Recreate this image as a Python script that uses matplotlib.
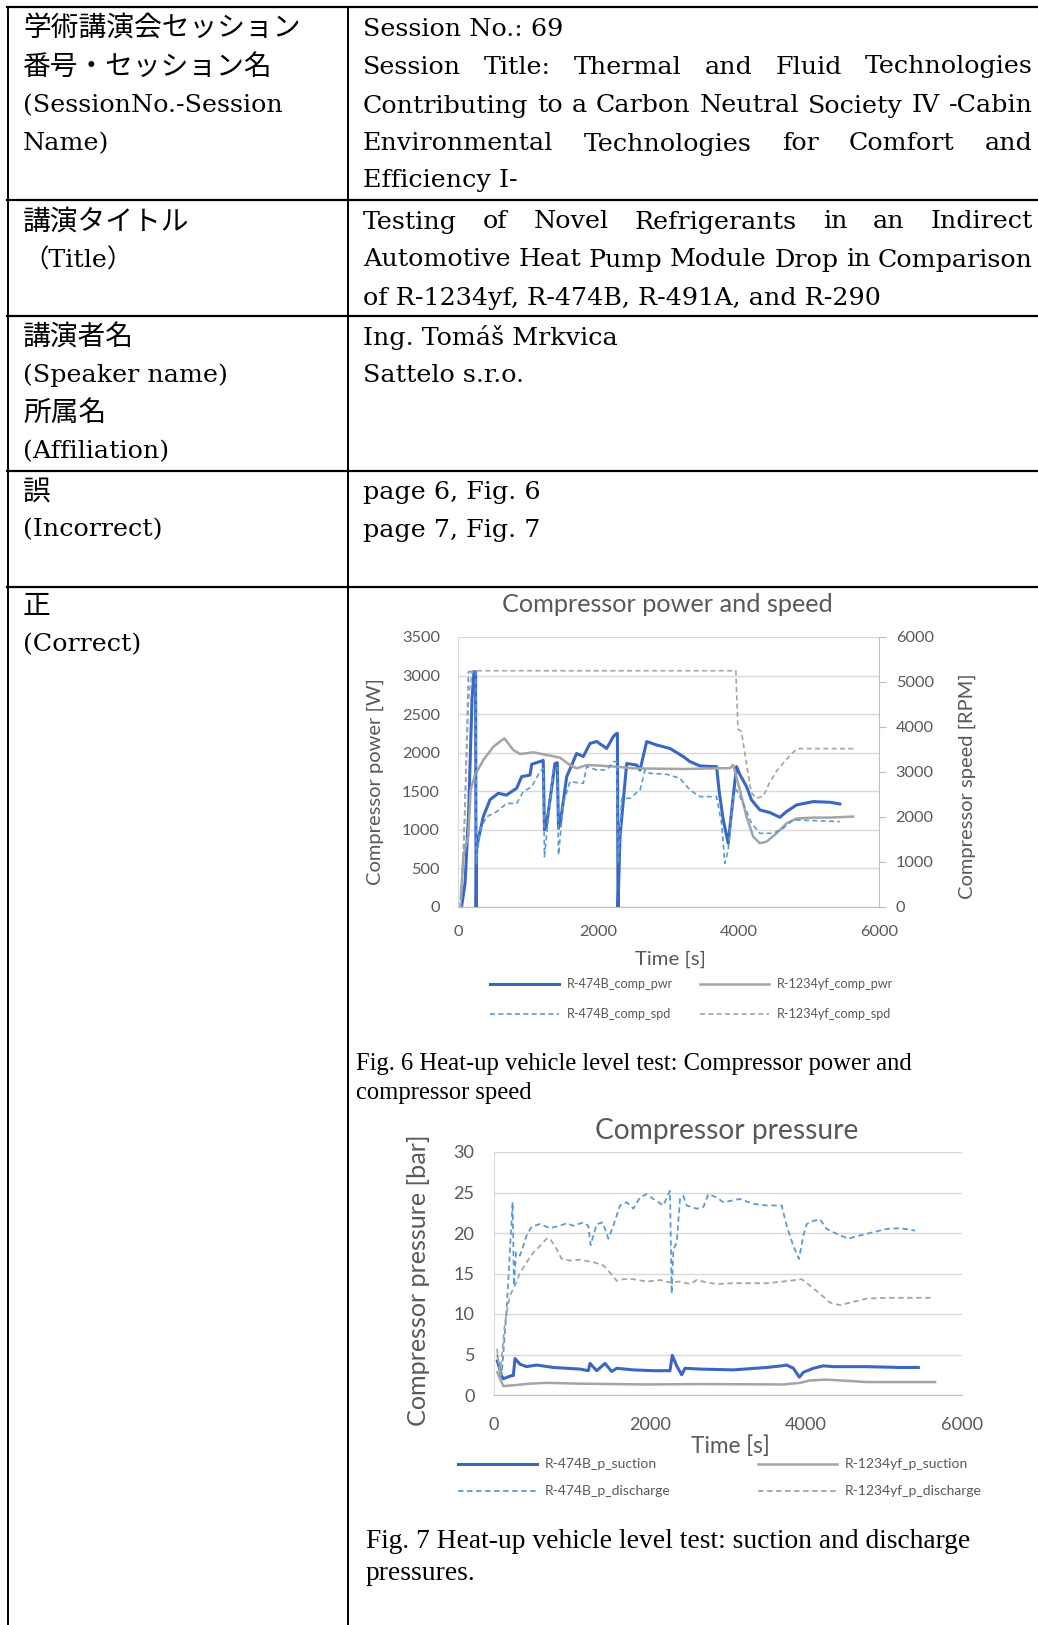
import matplotlib
matplotlib.use('Agg')
import matplotlib.pyplot as plt
from matplotlib.lines import Line2D

# ---- data: Fig. 6 compressor power [W] / speed [RPM] ----
t_474b_pwr = [50, 100, 150, 200, 228, 250, 258, 266, 360, 456, 575, 690, 836, 907, 1026, 1050, 1150, 1215, 1232, 1260,
              1382, 1415, 1432, 1460, 1549, 1691, 1786, 1881, 1976, 2119, 2214, 2261, 2272, 2280, 2309, 2404, 2546, 2594,
              2689, 2831, 3021, 3211, 3305, 3447, 3637, 3685, 3722, 3780, 3851, 3922, 3970, 4008, 4112, 4183, 4302, 4445,
              4587, 4682, 4825, 5062, 5300, 5442]
v_474b_pwr = [0, 300, 1200, 2700, 3050, 3050, 0, 780, 1170, 1390, 1475, 1450, 1540, 1690, 1710, 1850, 1880, 1900, 1000, 1050,
              1860, 1870, 1020, 1100, 1690, 1990, 1950, 2120, 2145, 2055, 2210, 2250, 2250, 0, 910, 1860, 1840, 1775,
              2145, 2100, 2055, 1950, 1885, 1829, 1820, 1820, 1500, 1128, 826, 1431, 1820, 1734, 1561, 1388, 1258, 1224,
              1163, 1237, 1323, 1366, 1358, 1336]

t_yf_pwr = [40, 76, 110, 147, 180, 242, 361, 504, 660, 789, 884, 1074, 1311, 1454, 1596, 1691, 1834, 2024, 2261, 2499,
            3211, 3875, 3922, 4017, 4112, 4207, 4302, 4397, 4540, 4682, 4825, 5062, 5300, 5632]
v_yf_pwr = [100, 650, 800, 910, 1517, 1711, 1905, 2078, 2186, 2035, 1983, 2005, 1962, 1936, 1840, 1797, 1840, 1832, 1819, 1797,
            1789, 1800, 1842, 1518, 1172, 912, 826, 847, 955, 1085, 1146, 1159, 1159, 1172]

t_474b_spd = [30, 80, 120, 150, 250, 262, 313, 408, 551, 693, 836, 931, 1050, 1169, 1216, 1232, 1359, 1420, 1432, 1501,
              1596, 1786, 1834, 1976, 2119, 2214, 2261, 2285, 2333, 2451, 2594, 2665, 2736, 2974, 3162, 3305, 3447, 3685,
              3756, 3803, 3851, 3922, 3970, 4065, 4183, 4302, 4492, 4635, 4777, 5062, 5442]
v_474b_spd = [0, 1200, 3430, 5230, 5230, 970, 1715, 2005, 2117, 2302, 2302, 2563, 2674, 3009, 3081, 1118, 3090, 3090, 1157, 2302,
              2786, 2748, 3120, 3045, 3045, 3231, 3231, 970, 2415, 2415, 2601, 3045, 2971, 2949, 2861, 2601, 2453, 2453,
              1860, 970, 1267, 2453, 2601, 2306, 1860, 1637, 1637, 1749, 1935, 1920, 1898]

t_yf_spd = [40, 90, 150, 200, 3960, 3990, 4040, 4110, 4180, 4250, 4350, 4440, 4540, 4680, 4830, 5650]
v_yf_spd = [0, 1800, 4600, 5250, 5250, 3950, 3900, 3200, 2540, 2420, 2460, 2760, 3020, 3280, 3520, 3520]

# ---- data: Fig. 7 compressor pressure [bar] ----
t_474b_dis = [40, 98, 162, 239, 256, 282, 333, 419, 483, 590, 718, 846, 931, 1017, 1145, 1209, 1239, 1316, 1393, 1466,
              1530, 1615, 1701, 1786, 1872, 1957, 2043, 2171, 2256, 2278, 2299, 2342, 2385, 2427, 2470, 2598, 2684, 2748,
              2855, 2940, 3154, 3325, 3496, 3688, 3752, 3838, 3910, 3966, 4009, 4095, 4180, 4265, 4393, 4543, 4693, 4863,
              5034, 5205, 5398]
v_474b_dis = [5.0, 2.4, 10.6, 23.8, 13.5, 17.6, 17.2, 19.7, 20.8, 21.1, 20.6, 20.9, 21.2, 20.9, 21.3, 20.9, 18.5, 21.1, 21.3, 19.3,
              20.9, 23.4, 23.8, 23.0, 24.4, 24.8, 24.2, 23.4, 25.2, 12.5, 18.0, 18.8, 24.2, 24.6, 23.4, 23.0, 23.2, 24.8,
              24.4, 23.8, 24.2, 23.6, 23.4, 23.4, 20.9, 18.4, 16.8, 19.7, 21.1, 21.5, 21.7, 20.5, 19.9, 19.3, 19.7, 20.1,
              20.5, 20.6, 20.3]

t_yf_dis = [40, 77, 141, 205, 269, 333, 419, 504, 590, 675, 718, 803, 867, 974, 1102, 1273, 1402, 1487, 1573, 1658,
            1786, 1957, 2128, 2256, 2385, 2513, 2598, 2726, 2855, 3068, 3496, 3795, 3944, 4051, 4180, 4308, 4436, 4564,
            4778, 5034, 5633]
v_yf_dis = [5.7, 2.4, 9.0, 12.3, 13.5, 15.1, 16.4, 17.6, 18.4, 19.3, 19.3, 18.0, 16.8, 16.6, 16.7, 16.4, 16.0, 15.1, 14.1, 14.3,
            14.3, 14.0, 14.2, 13.9, 14.0, 13.7, 14.2, 13.9, 13.7, 13.8, 13.8, 14.1, 14.3, 13.5, 12.5, 11.4, 11.1, 11.4,
            11.9, 12.0, 12.0]

t_474b_suc = [43, 98, 119, 226, 248, 269, 333, 419, 547, 761, 1102, 1209, 1231, 1316, 1423, 1509, 1573, 1786, 2043, 2256,
              2286, 2342, 2406, 2449, 2641, 3068, 3496, 3688, 3752, 3838, 3915, 3966, 4095, 4223, 4351, 4778, 5205, 5440]
v_474b_suc = [4.2, 2.4, 2.0, 2.4, 2.4, 4.5, 3.8, 3.5, 3.7, 3.4, 3.2, 3.0, 3.9, 3.0, 3.9, 2.9, 3.3, 3.1, 3.0, 3.0,
              4.9, 3.6, 2.5, 3.3, 3.2, 3.1, 3.4, 3.6, 3.7, 3.3, 2.2, 2.8, 3.3, 3.6, 3.5, 3.5, 3.4, 3.4]

t_yf_suc = [43, 119, 248, 461, 675, 1102, 1957, 2641, 3710, 3923, 4051, 4265, 4436, 4778, 5205, 5654]
v_yf_suc = [2.8, 1.1, 1.2, 1.4, 1.5, 1.4, 1.3, 1.35, 1.3, 1.5, 1.8, 1.9, 1.8, 1.6, 1.6, 1.6]

legend1 = ['R-474B_comp_pwr', 'R-1234yf_comp_pwr', 'R-474B_comp_spd', 'R-1234yf_comp_spd']
legend2 = ['R-474B_p_suction', 'R-1234yf_p_suction', 'R-474B_p_discharge', 'R-1234yf_p_discharge']

# ---- table text ----
left_col = [
    ['学術講演会セッション', '番号・セッション名', '(SessionNo.-Session', 'Name)'],
    ['講演タイトル', '（Title）'],
    ['講演者名', '(Speaker name)', '所属名', '(Affiliation)'],
    ['誤', '(Incorrect)'],
    ['正', '(Correct)'],
]
# (text, justified?)
right_col = [
    [('Session No.: 69', False),
     ('Session Title: Thermal and Fluid Technologies', True),
     ('Contributing to a Carbon Neutral Society IV -Cabin', True),
     ('Environmental Technologies for Comfort and', True),
     ('Efficiency I-', False)],
    [('Testing of Novel Refrigerants in an Indirect', True),
     ('Automotive Heat Pump Module Drop in Comparison', True),
     ('of R-1234yf, R-474B, R-491A, and R-290', False)],
    [('Ing. Tomáš Mrkvica', False), ('Sattelo s.r.o.', False)],
    [('page 6, Fig. 6', False), ('page 7, Fig. 7', False)],
]

W, H = 1038, 1625
fig = plt.figure(figsize=(W / 100, H / 100), dpi=100)
rend = fig.canvas.get_renderer()

SERIF = ['DejaVu Serif', 'Noto Sans CJK JP']
GOTHIC = ['Noto Sans CJK JP', 'DejaVu Sans']
TIMES = ['Liberation Serif', 'DejaVu Serif']
CHART = ['Lato', 'DejaVu Sans']
GRAY_TXT = '#595959'
BLUE = '#3B67C4'
LBLUE = '#5B9BD5'
GRAY = '#A5A5A5'


def fx(x):
    return x / W


def fy(y):
    return 1 - y / H


def text_w(s, size, family):
    t = fig.text(0, 0, s, fontsize=size, family=family)
    w = t.get_window_extent(rend).width
    t.remove()
    return w


def fit(s, target, family):
    return 20 * target / text_w(s, 20, family)


def put(x, y, s, size, family, **kw):
    return fig.text(fx(x), fy(y), s, fontsize=size, family=family, va='center', **kw)


def put_justified(x0, x1, y, s, size, family):
    words = s.split(' ')
    widths = [text_w(w, size, family) for w in words]
    gap = (x1 - x0 - sum(widths)) / (len(words) - 1)
    x = x0
    for w, ww in zip(words, widths):
        put(x, y, w, size, family)
        x += ww + gap


# ---- table grid ----
row_lines = [7, 200, 316, 471, 587]
for y in row_lines:
    fig.add_artist(Line2D([fx(7), fx(W)], [fy(y), fy(y)], color='black', lw=1.6))
for x in [8, 348]:
    fig.add_artist(Line2D([fx(x), fx(x)], [fy(7), fy(H)], color='black', lw=1.4))

line_y = [[29, 67, 106, 144, 181], [222, 260, 298], [338, 375, 413, 452], [492, 530], [606, 645]]

x0, x1 = 363, 1033
serif_size = min(fit(s, x1 - x0, SERIF) for blk in right_col for s, j in blk if j)
jp_size = fit('学術講演会セッション', 277, GOTHIC)

for blk, ys in zip(left_col, line_y):
    for s, y in zip(blk, ys):
        if s.startswith('(') or s.startswith('（') or s.startswith('N'):
            put(23, y, s, serif_size, SERIF)
        else:
            put(23, y, s, jp_size, GOTHIC)

for blk, ys in zip(right_col, line_y):
    for (s, j), y in zip(blk, ys):
        if j:
            put_justified(x0, x1, y, s, serif_size, SERIF)
        else:
            put(x0, y, s, serif_size, SERIF)

# ---- Fig. 6 chart ----
tick_size = fit('3000', 38, CHART)
leg_size = fit('R-474B_comp_pwr', 107, CHART)

ax1 = fig.add_axes([fx(458), fy(907), (879 - 458) / W, (907 - 637) / H])
ax1b = ax1.twinx()
l1, = ax1.plot(t_474b_pwr, v_474b_pwr, color=BLUE, lw=2.2)
l2, = ax1.plot(t_yf_pwr, v_yf_pwr, color=GRAY, lw=1.8)
l3, = ax1b.plot(t_474b_spd, v_474b_spd, color=LBLUE, lw=1.2, dashes=(3, 2))
l4, = ax1b.plot(t_yf_spd, v_yf_spd, color=GRAY, lw=1.2, dashes=(3, 2))

ax1.set_xlim(0, 6000)
ax1.set_xticks([0, 2000, 4000, 6000])
ax1.set_ylim(0, 3500)
ax1.set_yticks(range(0, 3501, 500))
ax1.grid(axis='y', color='#D9D9D9', lw=1)
ax1.set_axisbelow(True)
ax1.tick_params(axis='y', length=0, pad=13, labelsize=tick_size, labelcolor=GRAY_TXT)
ax1.tick_params(axis='x', length=0, pad=13, labelsize=tick_size, labelcolor=GRAY_TXT)
ax1b.set_ylim(0, 6000)
ax1b.set_yticks(range(0, 6001, 1000))
ax1b.tick_params(axis='y', length=5, color='#BFBFBF', pad=7, labelsize=tick_size, labelcolor=GRAY_TXT)
for ax in (ax1, ax1b):
    ax.spines['top'].set_visible(False)
ax1.spines['right'].set_visible(False)
ax1.spines['left'].set_color('#D9D9D9')
ax1.spines['bottom'].set_color('#BFBFBF')
ax1b.spines['left'].set_visible(False)
ax1b.spines['bottom'].set_visible(False)
ax1b.spines['right'].set_color('#BFBFBF')
for lab in ax1.get_yticklabels() + ax1.get_xticklabels() + ax1b.get_yticklabels():
    lab.set_family(CHART)

put(667, 605, 'Compressor power and speed', fit('Compressor power and speed', 332, CHART), CHART,
    ha='center', color=GRAY_TXT)
put(375, 782, 'Compressor power [W]', fit('Compressor power [W]', 207, CHART), CHART,
    ha='center', rotation=90, color=GRAY_TXT)
put(967, 786, 'Compressor speed [RPM]', fit('Compressor speed [RPM]', 226, CHART), CHART,
    ha='center', rotation=90, color=GRAY_TXT)
put(670, 959, 'Time [s]', fit('Time [s]', 71, CHART), CHART, ha='center', color=GRAY_TXT)

leg1_pos = [(490, 559, 567, 984), (700, 769, 777, 984), (490, 559, 567, 1014), (700, 769, 777, 1014)]
for h, lab, (a, b, c, y) in zip([l1, l2, l3, l4], legend1, leg1_pos):
    ln = Line2D([fx(a), fx(b)], [fy(y), fy(y)], color=h.get_color(), lw=h.get_linewidth())
    if h in (l3, l4):
        ln.set_dashes((3, 2))
    fig.add_artist(ln)
    put(c, y, lab, leg_size, CHART, color=GRAY_TXT)

cap1 = 'Fig. 6 Heat-up vehicle level test: Compressor power and'
cap_size1 = fit(cap1, 557, TIMES)
put(356, 1064, cap1, cap_size1, TIMES)
put(356, 1093, 'compressor speed', cap_size1, TIMES)

# ---- Fig. 7 chart ----
tick_size2 = fit('2000', 42, CHART)
leg_size2 = fit('R-474B_p_suction', 112, CHART)

ax2 = fig.add_axes([fx(494), fy(1395), (962 - 494) / W, (1395 - 1152) / H])
m1, = ax2.plot(t_474b_suc, v_474b_suc, color=BLUE, lw=2.2)
m2, = ax2.plot(t_yf_suc, v_yf_suc, color=GRAY, lw=1.8)
m3, = ax2.plot(t_474b_dis, v_474b_dis, color=LBLUE, lw=1.3, dashes=(3, 2))
m4, = ax2.plot(t_yf_dis, v_yf_dis, color=GRAY, lw=1.3, dashes=(3, 2))
ax2.set_xlim(0, 6000)
ax2.set_xticks([0, 2000, 4000, 6000])
ax2.set_ylim(0, 30)
ax2.set_yticks(range(0, 31, 5))
ax2.grid(axis='y', color='#D9D9D9', lw=1)
ax2.set_axisbelow(True)
ax2.tick_params(axis='y', length=0, pad=14, labelsize=tick_size2, labelcolor=GRAY_TXT)
ax2.tick_params(axis='x', length=0, pad=16, labelsize=tick_size2, labelcolor=GRAY_TXT)
ax2.spines['top'].set_visible(False)
ax2.spines['right'].set_visible(False)
ax2.spines['left'].set_color('#D9D9D9')
ax2.spines['bottom'].set_color('#BFBFBF')
for lab in ax2.get_yticklabels() + ax2.get_xticklabels():
    lab.set_family(CHART)

put(727, 1131, 'Compressor pressure', fit('Compressor pressure', 263, CHART), CHART,
    ha='center', color=GRAY_TXT)
put(418, 1280, 'Compressor pressure [bar]', fit('Compressor pressure [bar]', 293, CHART), CHART,
    ha='center', rotation=90, color=GRAY_TXT)
put(730, 1446, 'Time [s]', fit('Time [s]', 79, CHART), CHART, ha='center', color=GRAY_TXT)

leg2_pos = [(458, 537, 545, 1464), (758, 837, 845, 1464), (458, 537, 545, 1491), (758, 837, 845, 1491)]
for h, lab, (a, b, c, y) in zip([m1, m2, m3, m4], legend2, leg2_pos):
    ln = Line2D([fx(a), fx(b)], [fy(y), fy(y)], color=h.get_color(), lw=h.get_linewidth())
    if h in (m3, m4):
        ln.set_dashes((3, 2))
    fig.add_artist(ln)
    put(c, y, lab, leg_size2, CHART, color=GRAY_TXT)

cap2 = 'Fig. 7 Heat-up vehicle level test: suction and discharge'
cap_size2 = fit(cap2, 605, TIMES)
put(366, 1541, cap2, cap_size2, TIMES)
put(366, 1574, 'pressures.', cap_size2, TIMES)

fig.savefig('out.png', dpi=100, facecolor='white')
